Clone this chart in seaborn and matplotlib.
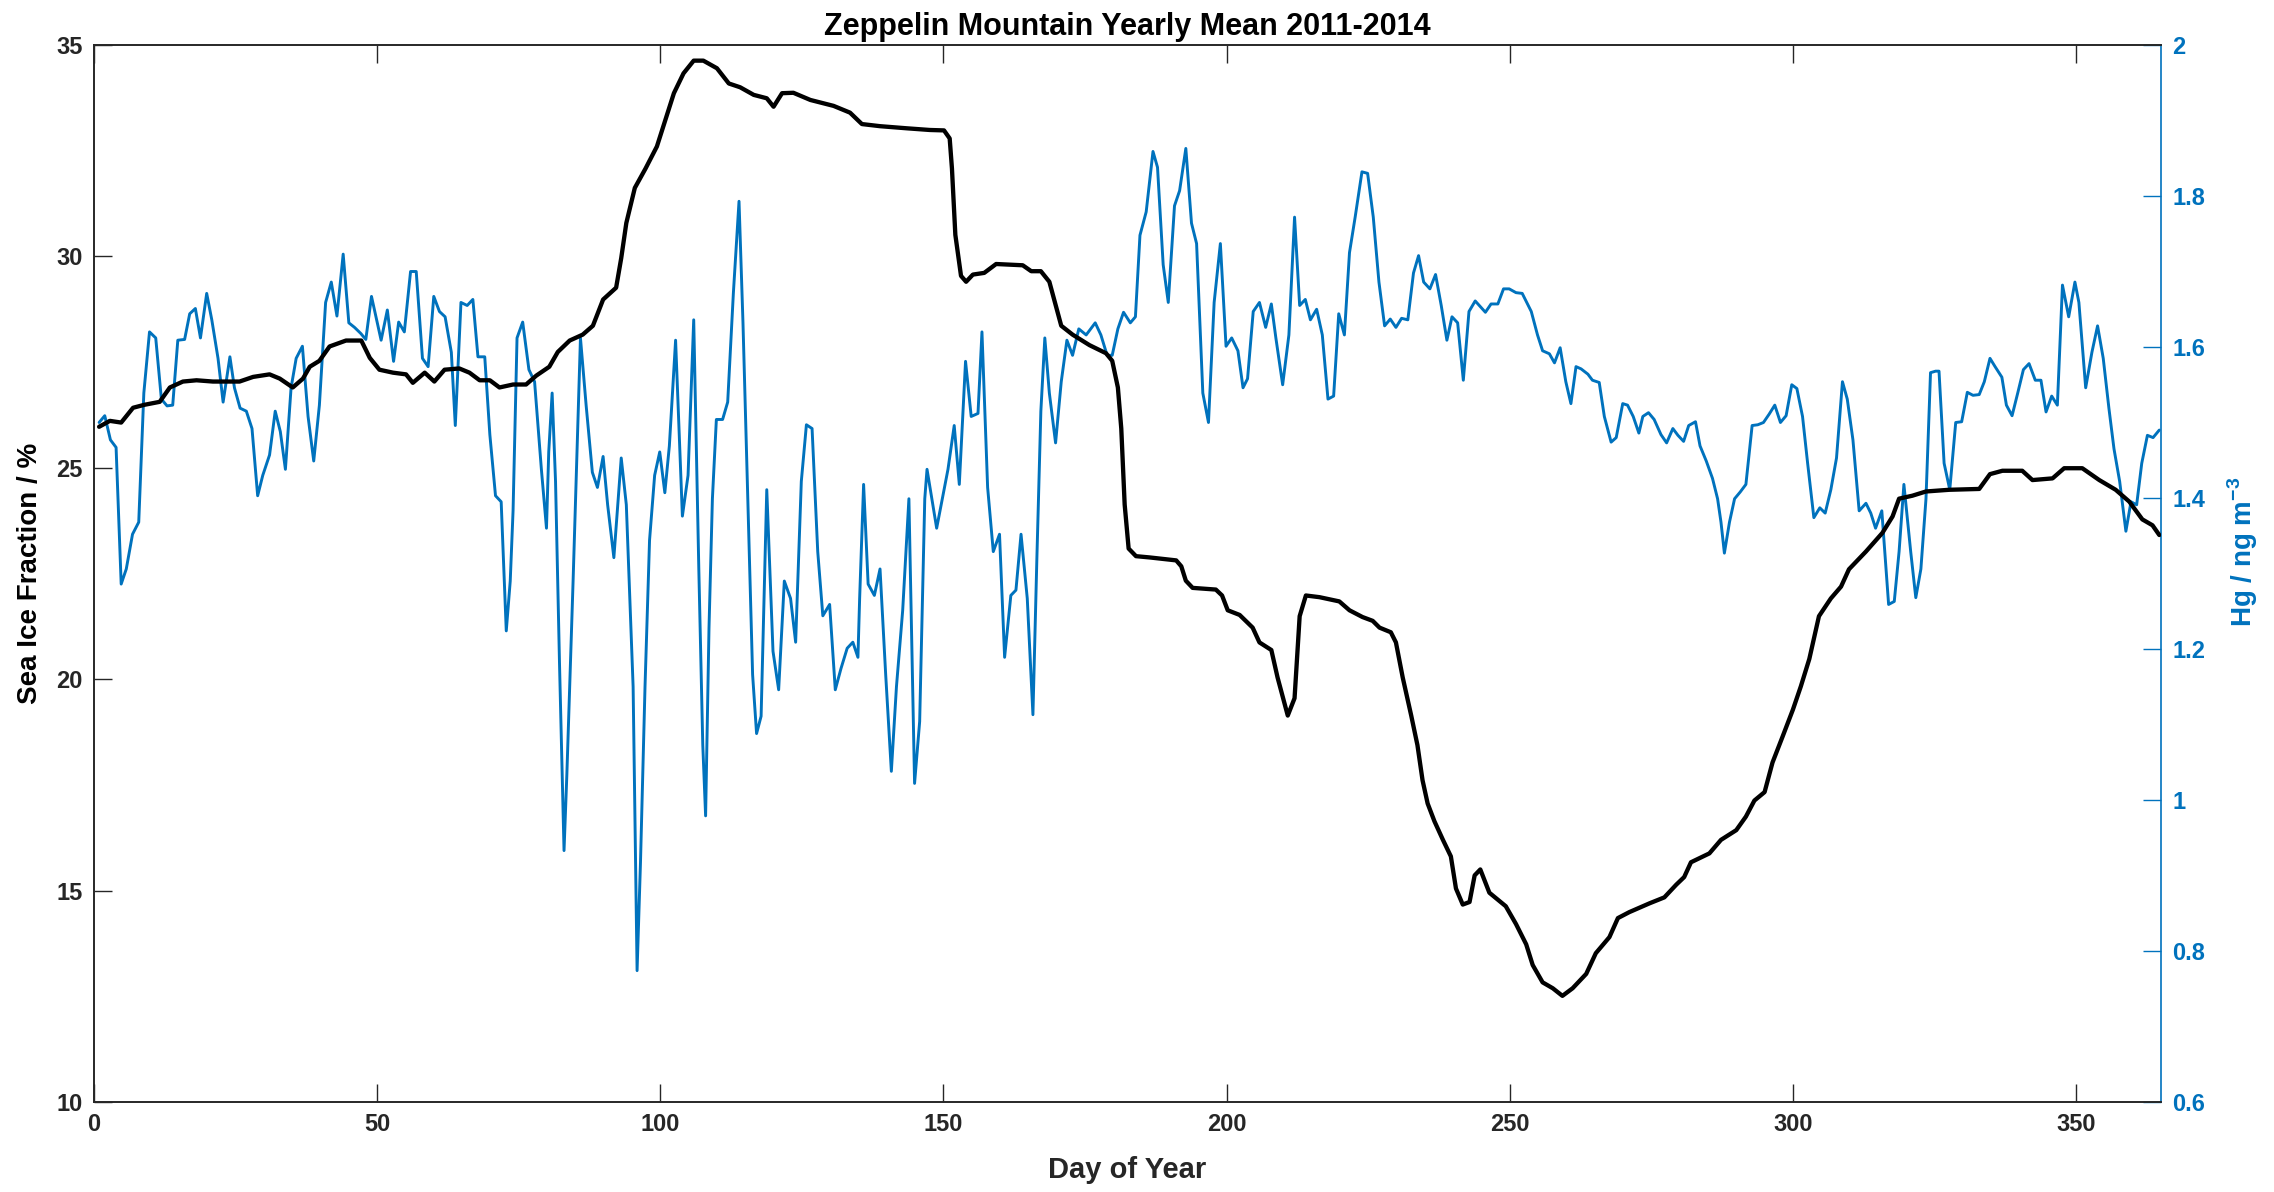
import matplotlib
matplotlib.use("Agg")
import matplotlib.pyplot as plt
import seaborn as sns
import pandas as pd

# ---------------- data ----------------
ice_day = [0.9, 2.8, 4.8, 6.9, 8.9, 11.6, 13.4, 15.7, 18.1, 21.0, 25.7, 28.1, 31.0, 32.8, 35.1, 36.9,
           38.1, 39.8, 41.6, 44.5, 47.2, 48.7, 50.4, 52.8, 55.1, 56.3, 58.4, 60.1, 61.9, 64.5, 66.3,
           68.1, 69.9, 71.6, 74.0, 76.3, 78.1, 80.4, 81.9, 84.0, 86.3, 88.1, 89.9, 92.2, 93.1, 94.0,
           95.5, 97.4, 99.4, 102.4, 104.1, 105.9, 107.6, 110.0, 112.1, 114.1, 116.5, 118.8, 120.0,
           121.5, 123.5, 126.5, 130.6, 133.5, 135.6, 138.8, 143.5, 147.6, 150.1, 151.1, 151.5, 152.1,
           153.1, 154.0, 155.2, 157.2, 159.3, 164.0, 165.5, 167.2, 168.7, 170.8, 172.8, 175.8, 178.7,
           179.8, 180.8, 181.4, 182.0, 182.7, 184.0, 186.4, 191.1, 192.0, 192.8, 194.0, 198.1, 199.2,
           200.2, 202.3, 204.6, 205.8, 207.9, 209.0, 210.8, 212.0, 212.9, 214.0, 216.4, 219.9, 221.7,
           224.0, 225.8, 227.0, 229.0, 229.9, 231.1, 232.6, 233.7, 234.6, 235.5, 236.7, 238.2, 239.6,
           240.5, 241.7, 242.9, 243.8, 244.8, 246.4, 249.3, 251.1, 252.9, 254.05, 255.8, 257.6, 259.3,
           261.1, 263.5, 265.2, 267.6, 269.1, 271.1, 274.7, 277.3, 279.4, 280.8, 282.0, 285.25, 287.3,
           290.0, 291.7, 293.2, 295.0, 296.4, 298.2, 300.0, 301.4, 302.9, 304.6, 306.7, 308.5, 309.9,
           312.9, 315.8, 317.6, 318.75, 321.1, 323.5, 327.6, 332.9, 334.8, 337.0, 340.5, 342.3, 345.85,
           347.9, 351.1, 354.1, 357.0, 359.4, 361.7, 363.5, 364.7]
ice_frac = [25.97, 26.11, 26.07, 26.42, 26.49, 26.56, 26.90, 27.04, 27.07, 27.04, 27.04, 27.15, 27.21,
            27.11, 26.90, 27.11, 27.39, 27.53, 27.87, 28.01, 28.01, 27.60, 27.32, 27.25, 27.21, 27.01,
            27.25, 27.04, 27.32, 27.35, 27.25, 27.07, 27.07, 26.90, 26.97, 26.97, 27.18, 27.39, 27.74,
            28.01, 28.15, 28.36, 28.98, 29.26, 29.96, 30.79, 31.62, 32.08, 32.60, 33.86, 34.33, 34.63,
            34.63, 34.45, 34.09, 34.00, 33.82, 33.74, 33.54, 33.86, 33.87, 33.70, 33.56, 33.40, 33.13,
            33.08, 33.03, 32.99, 32.98, 32.79, 32.08, 30.51, 29.54, 29.40, 29.57, 29.61, 29.82, 29.79,
            29.65, 29.65, 29.40, 28.36, 28.15, 27.90, 27.71, 27.53, 26.90, 25.93, 24.13, 23.09, 22.91,
            22.88, 22.81, 22.67, 22.33, 22.16, 22.12, 21.98, 21.63, 21.52, 21.22, 20.87, 20.69, 20.04,
            19.14, 19.55, 21.49, 21.98, 21.94, 21.84, 21.63, 21.47, 21.38, 21.22, 21.11, 20.87, 20.04,
            19.14, 18.44, 17.61, 17.06, 16.64, 16.20, 15.81, 15.05, 14.67, 14.73, 15.36, 15.50, 14.95,
            14.63, 14.21, 13.73, 13.24, 12.83, 12.69, 12.51, 12.69, 13.03, 13.52, 13.90, 14.35, 14.49,
            14.70, 14.84, 15.14, 15.32, 15.67, 15.88, 16.20, 16.43, 16.75, 17.13, 17.33, 18.03, 18.65,
            19.28, 19.83, 20.48, 21.49, 21.91, 22.19, 22.60, 23.02, 23.46, 23.85, 24.27, 24.34, 24.44,
            24.48, 24.50, 24.85, 24.93, 24.93, 24.71, 24.75, 24.99, 24.99, 24.71, 24.48, 24.20, 23.78,
            23.64, 23.41]

hg_day = [0.9, 1.9, 2.9, 3.9, 4.8, 5.7, 6.8, 7.9, 8.8, 9.8, 10.9, 11.9, 12.9, 13.9, 14.8, 16.0, 16.9,
          17.9, 18.8, 19.9, 20.8, 21.9, 22.8, 24.0, 24.8, 25.8, 26.9, 27.9, 28.9, 29.8, 31.0, 32.0, 32.9,
          33.8, 34.8, 35.7, 36.8, 37.8, 38.8, 39.8, 40.9, 41.9, 42.9, 44.0, 45.0, 46.0, 47.1, 48.0, 49.0,
          49.8, 50.7, 51.8, 52.9, 53.8, 54.8, 55.9, 56.9, 58.0, 59.0, 60.0, 61.0, 62.0, 63.1, 63.8, 64.8,
          65.9, 66.9, 67.8, 69.0, 69.9, 70.9, 71.9, 72.8, 73.5, 74.0, 74.7, 75.7, 76.8, 77.8, 79.0, 79.9,
          80.3, 80.9, 81.5, 82.2, 83.0, 83.5, 84.6, 85.9, 86.9, 88.0, 88.9, 89.9, 90.7, 91.8, 93.1, 94.0,
          95.2, 95.9, 96.5, 97.3, 98.1, 99.0, 99.9, 100.8, 101.6, 102.7, 103.9, 104.9, 105.9, 106.8,
          107.5, 108.0, 108.6, 109.2, 109.9, 111.0, 111.9, 112.9, 113.9, 114.6, 115.5, 116.3, 117.0,
          117.8, 118.8, 119.9, 120.9, 121.9, 123.0, 123.9, 124.9, 125.8, 126.8, 127.8, 128.7, 129.9,
          130.9, 131.9, 133.0, 134.0, 134.9, 135.2, 135.9, 136.7, 137.8, 138.8, 139.8, 140.8, 141.7,
          142.8, 143.9, 144.9, 145.8, 146.7, 147.1, 148.8, 150.8, 151.9, 152.8, 153.9, 154.9, 156.1,
          156.8, 157.8, 158.8, 159.9, 160.8, 161.9, 162.8, 163.7, 164.8, 165.8, 166.5, 167.2, 167.9,
          168.7, 169.8, 170.8, 171.8, 172.8, 173.9, 175.2, 176.8, 177.8, 178.9, 179.8, 180.8, 181.8,
          183.0, 183.9, 184.7, 185.8, 187.0, 187.8, 188.8, 189.7, 190.8, 191.7, 192.8, 193.8, 194.7,
          195.8, 196.8, 197.8, 198.9, 199.9, 200.9, 202.0, 202.9, 203.7, 204.7, 205.8, 206.9, 207.9,
          208.7, 209.9, 211.0, 212.0, 212.9, 213.9, 214.8, 215.9, 216.9, 217.9, 218.9, 219.8, 220.8,
          221.7, 222.7, 223.9, 224.9, 225.9, 226.9, 227.9, 228.9, 229.9, 230.9, 232.0, 233.0, 233.9,
          234.8, 235.9, 236.9, 237.9, 238.9, 239.8, 240.8, 241.8, 242.8, 243.9, 245.7, 246.7, 247.9,
          248.9, 249.9, 251.1, 252.2, 253.8, 254.9, 255.8, 257.0, 257.9, 258.9, 259.9, 260.8, 261.7,
          262.6, 263.8, 264.6, 265.8, 266.7, 267.9, 268.8, 269.95, 270.8, 271.8, 272.8, 273.5, 274.5,
          275.5, 276.7, 277.7, 278.8, 279.7, 280.7, 281.6, 282.8, 283.6, 284.7, 285.8, 286.7, 287.3,
          287.9, 288.8, 289.7, 290.7, 291.7, 292.8, 293.8, 294.8, 295.8, 296.8, 297.8, 298.8, 299.8,
          300.7, 301.7, 302.6, 303.7, 304.75, 305.7, 306.7, 307.7, 308.75, 309.6, 310.6, 311.7, 312.9,
          313.75, 314.6, 315.7, 316.9, 317.9, 318.75, 319.6, 320.8, 321.7, 322.6, 323.5, 324.3, 325.2,
          325.8, 326.7, 327.7, 328.75, 329.8, 330.8, 331.8, 332.9, 333.8, 334.8, 335.7, 336.9, 337.7,
          338.7, 339.7, 340.7, 341.7, 342.8, 343.8, 344.7, 345.7, 346.7, 347.6, 348.7, 349.8, 350.5,
          351.7, 352.8, 353.8, 354.8, 355.8, 356.7, 357.7, 358.8, 359.7, 360.7, 361.6, 362.6, 363.6,
          364.7]
hg_conc = [1.500, 1.509, 1.477, 1.467, 1.286, 1.306, 1.352, 1.368, 1.539, 1.620, 1.612, 1.531, 1.522,
           1.523, 1.609, 1.610, 1.644, 1.651, 1.612, 1.671, 1.636, 1.585, 1.527, 1.587, 1.546, 1.519,
           1.515, 1.492, 1.403, 1.430, 1.457, 1.515, 1.488, 1.438, 1.546, 1.585, 1.601, 1.508, 1.449,
           1.523, 1.659, 1.686, 1.641, 1.723, 1.632, 1.626, 1.618, 1.610, 1.667, 1.640, 1.609, 1.649,
           1.581, 1.633, 1.620, 1.700, 1.700, 1.585, 1.574, 1.667, 1.647, 1.640, 1.593, 1.496, 1.659,
           1.655, 1.663, 1.587, 1.587, 1.484, 1.403, 1.395, 1.224, 1.290, 1.383, 1.612, 1.633, 1.570,
           1.554, 1.438, 1.360, 1.461, 1.539, 1.422, 1.181, 0.933, 1.034, 1.290, 1.612, 1.523, 1.434,
           1.414, 1.455, 1.391, 1.321, 1.453, 1.391, 1.150, 0.774, 0.917, 1.150, 1.344, 1.430, 1.461,
           1.407, 1.469, 1.609, 1.376, 1.430, 1.636, 1.306, 1.073, 0.979, 1.228, 1.399, 1.504, 1.504,
           1.527, 1.671, 1.793, 1.632, 1.383, 1.166, 1.088, 1.111, 1.411, 1.197, 1.146, 1.290, 1.267,
           1.209, 1.422, 1.497, 1.492, 1.329, 1.244, 1.259, 1.146, 1.174, 1.201, 1.209, 1.189, 1.267,
           1.418, 1.286, 1.271, 1.306, 1.166, 1.038, 1.150, 1.251, 1.399, 1.022, 1.104, 1.399, 1.438,
           1.360, 1.438, 1.496, 1.418, 1.581, 1.508, 1.512, 1.620, 1.414, 1.329, 1.352, 1.189, 1.271,
           1.278, 1.352, 1.267, 1.113, 1.321, 1.515, 1.612, 1.539, 1.473, 1.554, 1.609, 1.589, 1.624,
           1.616, 1.632, 1.616, 1.589, 1.589, 1.624, 1.646, 1.632, 1.640, 1.748, 1.779, 1.859, 1.838,
           1.709, 1.659, 1.787, 1.807, 1.863, 1.764, 1.737, 1.539, 1.500, 1.659, 1.737, 1.601, 1.612,
           1.595, 1.546, 1.558, 1.647, 1.659, 1.626, 1.657, 1.612, 1.550, 1.616, 1.772, 1.655, 1.663,
           1.636, 1.650, 1.616, 1.531, 1.535, 1.644, 1.616, 1.725, 1.772, 1.832, 1.830, 1.772, 1.686,
           1.628, 1.637, 1.626, 1.638, 1.636, 1.698, 1.721, 1.686, 1.677, 1.696, 1.655, 1.609, 1.640,
           1.632, 1.556, 1.647, 1.661, 1.646, 1.657, 1.657, 1.677, 1.677, 1.672, 1.671, 1.647, 1.616,
           1.595, 1.591, 1.579, 1.599, 1.554, 1.525, 1.574, 1.571, 1.564, 1.556, 1.553, 1.508, 1.474,
           1.480, 1.525, 1.523, 1.508, 1.486, 1.508, 1.513, 1.504, 1.484, 1.473, 1.492, 1.483, 1.475,
           1.496, 1.501, 1.469, 1.449, 1.426, 1.399, 1.368, 1.327, 1.368, 1.399, 1.408, 1.418, 1.496,
           1.497, 1.500, 1.511, 1.523, 1.500, 1.509, 1.550, 1.545, 1.508, 1.446, 1.374, 1.387, 1.380,
           1.411, 1.453, 1.554, 1.531, 1.477, 1.383, 1.393, 1.380, 1.360, 1.383, 1.259, 1.263, 1.329,
           1.418, 1.329, 1.268, 1.306, 1.399, 1.566, 1.568, 1.568, 1.446, 1.411, 1.500, 1.501, 1.540,
           1.536, 1.537, 1.554, 1.585, 1.574, 1.560, 1.523, 1.509, 1.539, 1.570, 1.578, 1.556, 1.556,
           1.514, 1.535, 1.523, 1.682, 1.640, 1.686, 1.659, 1.546, 1.593, 1.628, 1.585, 1.519, 1.465,
           1.422, 1.356, 1.395, 1.391, 1.446, 1.483, 1.480, 1.490]

x_ticks = [0, 50, 100, 150, 200, 250, 300, 350]
left_ticks = [10, 15, 20, 25, 30, 35]
right_ticks = [0.6, 0.8, 1.0, 1.2, 1.4, 1.6, 1.8, 2.0]
right_tick_labels = ["0.6", "0.8", "1", "1.2", "1.4", "1.6", "1.8", "2"]

title = "Zeppelin Mountain Yearly Mean 2011-2014"
x_label = "Day of Year"
left_label = "Sea Ice Fraction / %"
right_label = r"Hg / ng m$^{\mathbf{-3}}$"

# ---------------- style ----------------
sns.set_style("white")
plt.rcParams["font.family"] = ["Liberation Sans", "DejaVu Sans"]
plt.rcParams["font.weight"] = "bold"
plt.rcParams["mathtext.fontset"] = "custom"
plt.rcParams["mathtext.rm"] = "Liberation Sans"
plt.rcParams["mathtext.bf"] = "Liberation Sans:bold"

BLUE = "#0072BD"
AXC = "#262626"
TICK_FS = 17
LABEL_FS = 20
TITLE_FS = 22

fig = plt.figure(figsize=(22.74, 11.92), dpi=100)
ax = fig.add_axes([94 / 2274, 1 - 1102 / 1192, (2161 - 94) / 2274, (1102 - 45) / 1192])
ax2 = ax.twinx()

df_ice = pd.DataFrame({"day": ice_day, "ice": ice_frac})
df_hg = pd.DataFrame({"day": hg_day, "hg": hg_conc})

sns.lineplot(data=df_hg, x="day", y="hg", ax=ax2, color=BLUE, linewidth=2.1, errorbar=None)
sns.lineplot(data=df_ice, x="day", y="ice", ax=ax, color="black", linewidth=3.1, errorbar=None)

# draw the black line above the blue one
ax.set_zorder(ax2.get_zorder() + 1)
ax.patch.set_visible(False)

ax.set_xlim(0, 365)
ax.set_ylim(10, 35)
ax2.set_ylim(0.6, 2.0)
ax.set_xticks(x_ticks)
ax.set_yticks(left_ticks)
ax2.set_yticks(right_ticks)
ax2.set_yticklabels(right_tick_labels)

for a in (ax, ax2):
    for s in a.spines.values():
        s.set_linewidth(1.2)
        s.set_color(AXC)
ax2.spines["right"].set_color(BLUE)
ax.spines["right"].set_visible(False)

ax.tick_params(axis="x", direction="in", length=13, width=1.0, colors=AXC, labelsize=TICK_FS,
               top=True, bottom=True, pad=8)
ax.tick_params(axis="y", direction="in", length=13, width=1.0, colors=AXC, labelsize=TICK_FS,
               left=True, right=False, pad=8)
ax2.tick_params(axis="y", direction="in", length=13, width=1.0, colors=BLUE, labelsize=TICK_FS,
                right=True, left=False, pad=8)
for lbl in ax.get_xticklabels() + ax.get_yticklabels() + ax2.get_yticklabels():
    lbl.set_fontweight("bold")

ax.set_xlabel(x_label, fontsize=21, fontweight="bold", color=AXC, labelpad=14)
ax.set_ylabel(left_label, fontsize=LABEL_FS, fontweight="bold", color="black", labelpad=10)
ax2.set_ylabel(right_label, fontsize=LABEL_FS, fontweight="bold", color=BLUE, labelpad=10)
ax2.yaxis.set_label_coords(1.031, 0.52)
ax.set_title(title, fontsize=TITLE_FS, fontweight="bold", color="black", pad=7)

fig.savefig("out.png", dpi=100, facecolor="white")
